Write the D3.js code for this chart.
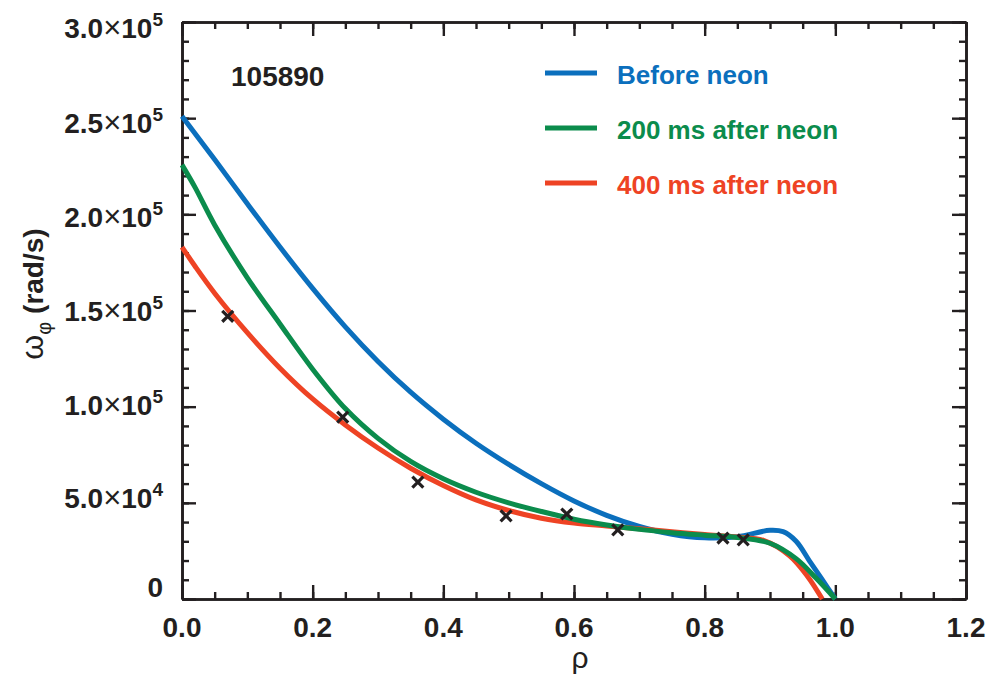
<!DOCTYPE html>
<html>
<head>
<meta charset="utf-8">
<script src="https://cdn.jsdelivr.net/npm/d3@7"></script>
<style>
  html, body { margin: 0; padding: 0; background: #fff; }
  svg { display: block; }
  text { font-family: "Liberation Sans", Arial, Helvetica, sans-serif; }
</style>
</head>
<body>
<svg id="chart" width="1003" height="681"></svg>
<script>
// ---- data ----
const rhoTicks = [0, 0.2, 0.4, 0.6, 0.8, 1.0, 1.2];
const rhoTickLabels = ["0.0", "0.2", "0.4", "0.6", "0.8", "1.0", "1.2"];
const omegaTicks = [0, 5e4, 1e5, 1.5e5, 2e5, 2.5e5, 3e5];
const omegaMantissa = ["0", "5.0", "1.0", "1.5", "2.0", "2.5", "3.0"];
const omegaExponent = [null, "4", "5", "5", "5", "5", "5"];

const seriesNames = ["Before neon", "200 ms after neon", "400 ms after neon"];
const seriesColors = ["#0b6fbd", "#0b8c4c", "#ee4324"];

const beforeRho   = [0, 0.05, 0.1, 0.15, 0.2, 0.25, 0.3, 0.35, 0.4, 0.45, 0.5, 0.55, 0.6, 0.65, 0.7, 0.75, 0.8, 0.85, 0.9, 0.92, 0.94, 0.96, 0.98, 1.0];
const beforeOmega = [2.51e5, 2.285e5, 2.055e5, 1.83e5, 1.615e5, 1.415e5, 1.235e5, 1.075e5, 0.935e5, 0.81e5, 0.70e5, 0.60e5, 0.51e5, 0.435e5, 0.377e5, 0.337e5, 0.318e5, 0.324e5, 0.357e5, 0.35e5, 0.30e5, 0.20e5, 0.10e5, 0];

const after200Rho   = [0, 0.02, 0.05, 0.1, 0.15, 0.2, 0.25, 0.3, 0.35, 0.4, 0.45, 0.5, 0.55, 0.6, 0.65, 0.7, 0.75, 0.8, 0.85, 0.9, 0.94, 0.97, 1.0];
const after200Omega = [2.257e5, 2.14e5, 1.945e5, 1.67e5, 1.43e5, 1.195e5, 0.99e5, 0.835e5, 0.715e5, 0.625e5, 0.555e5, 0.50e5, 0.455e5, 0.415e5, 0.385e5, 0.362e5, 0.345e5, 0.332e5, 0.32e5, 0.29e5, 0.21e5, 0.11e5, 0];

const after400Rho   = [0, 0.02, 0.05, 0.1, 0.15, 0.2, 0.25, 0.3, 0.35, 0.4, 0.45, 0.5, 0.55, 0.6, 0.65, 0.7, 0.75, 0.8, 0.85, 0.89, 0.93, 0.957, 0.98];
const after400Omega = [1.83e5, 1.73e5, 1.59e5, 1.385e5, 1.20e5, 1.04e5, 0.905e5, 0.785e5, 0.68e5, 0.59e5, 0.515e5, 0.46e5, 0.42e5, 0.395e5, 0.38e5, 0.365e5, 0.35e5, 0.335e5, 0.322e5, 0.305e5, 0.225e5, 0.12e5, 0];

// measured points
const measRho   = [0.07, 0.246, 0.361, 0.496, 0.589, 0.667, 0.828, 0.859];
const measOmega = [1.47e5, 0.946e5, 0.608e5, 0.432e5, 0.442e5, 0.359e5, 0.317e5, 0.307e5];

const shotLabel = "105890";

// ---- layout ----
const svg = d3.select("#chart");
const plot = { left: 182, right: 966, top: 22, bottom: 599 };
const ink = "#231f20";

const x = d3.scaleLinear().domain([0, 1.2]).range([plot.left, plot.right]);
const y = d3.scaleLinear().domain([0, 3e5]).range([plot.bottom, plot.top]);

const rhoMinor = d3.range(0, 1.2001, 0.05);
const omegaMinor = d3.range(0, 3.0001e5, 1e4);

function styleAxis(g) {
  g.selectAll(".domain").attr("stroke", ink).attr("stroke-width", 2.6);
  g.selectAll(".tick line").attr("stroke", ink).attr("stroke-width", 2.4);
  g.selectAll(".tick text").remove();
}

// frame with inward ticks on all four sides
const axes = [
  { gen: d3.axisBottom, scale: x, pos: `translate(0,${plot.bottom})`, major: rhoTicks, minor: rhoMinor },
  { gen: d3.axisTop,    scale: x, pos: `translate(0,${plot.top})`,    major: rhoTicks, minor: rhoMinor },
  { gen: d3.axisLeft,   scale: y, pos: `translate(${plot.left},0)`,   major: omegaTicks, minor: omegaMinor },
  { gen: d3.axisRight,  scale: y, pos: `translate(${plot.right},0)`,  major: omegaTicks, minor: omegaMinor }
];
axes.forEach(a => {
  svg.append("g").attr("transform", a.pos)
    .call(a.gen(a.scale).tickValues(a.minor).tickSizeInner(-7).tickSizeOuter(0).tickFormat(""))
    .call(styleAxis);
  svg.append("g").attr("transform", a.pos)
    .call(a.gen(a.scale).tickValues(a.major).tickSizeInner(-14).tickSizeOuter(0).tickFormat(""))
    .call(styleAxis);
});

// x tick labels
svg.append("g").selectAll("text")
  .data(rhoTicks)
  .join("text")
  .attr("x", d => x(d))
  .attr("y", 637)
  .attr("text-anchor", "middle")
  .attr("font-size", 28)
  .attr("font-weight", "bold")
  .attr("fill", ink)
  .text((d, i) => rhoTickLabels[i]);

// y tick labels (mantissa x 10^exponent)
const yLab = svg.append("g").selectAll("text")
  .data(omegaTicks)
  .join("text")
  .attr("x", 163)
  .attr("y", d => y(d) - 2 + 18 * Math.sqrt(d / 3e5))
  .attr("text-anchor", "end")
  .attr("font-size", 28)
  .attr("font-weight", "bold")
  .attr("fill", ink);
yLab.each(function (d, i) {
  const t = d3.select(this);
  t.append("tspan").text(omegaMantissa[i]);
  if (omegaExponent[i]) {
    t.append("tspan").attr("font-weight", "normal").attr("font-size", 31).text("\u00d7");
    t.append("tspan").text("10");
    t.append("tspan").attr("font-size", 19).attr("dy", -12).text(omegaExponent[i]);
  }
});

// axis titles
svg.append("text")
  .attr("x", 580)
  .attr("y", 668)
  .attr("text-anchor", "middle")
  .attr("font-size", 30)
  .attr("fill", ink)
  .text("\u03c1");

const yTitle = svg.append("text")
  .attr("transform", "translate(43,294) rotate(-90)")
  .attr("text-anchor", "middle")
  .attr("fill", ink);
yTitle.append("tspan").attr("font-size", 32).text("\u03c9");
yTitle.append("tspan").attr("font-size", 20).attr("dy", 8).text("\u03c6");
yTitle.append("tspan").attr("font-size", 28).attr("font-weight", "bold").attr("dy", -8).text(" (rad/s)");

// shot number
svg.append("text")
  .attr("x", 231)
  .attr("y", 86)
  .attr("font-size", 28)
  .attr("font-weight", "bold")
  .attr("fill", ink)
  .text(shotLabel);

// profiles
const seriesRho = [beforeRho, after200Rho, after400Rho];
const seriesOmega = [beforeOmega, after200Omega, after400Omega];
const line = d3.line()
  .x(d => x(d[0]))
  .y(d => y(d[1]))
  .curve(d3.curveCatmullRom.alpha(0.5));

const drawOrder = [0, 2, 1];
drawOrder.forEach(k => {
  const pts = seriesRho[k].map((r, i) => [r, seriesOmega[k][i]]);
  svg.append("path")
    .datum(pts)
    .attr("fill", "none")
    .attr("stroke", seriesColors[k])
    .attr("stroke-width", 5)
    .attr("stroke-linejoin", "round")
    .attr("d", line);
});

// measured points
const sym = d3.symbol().type(d3.symbolX).size(80);
svg.append("g").selectAll("path")
  .data(measRho.map((r, i) => [r, measOmega[i]]))
  .join("path")
  .attr("transform", d => `translate(${x(d[0])},${y(d[1])})`)
  .attr("d", sym)
  .attr("fill", "none")
  .attr("stroke", ink)
  .attr("stroke-width", 3.2);

// legend
const legend = svg.append("g");
seriesNames.forEach((name, i) => {
  const ly = 73 + i * 55;
  legend.append("line")
    .attr("x1", 545).attr("x2", 597)
    .attr("y1", ly).attr("y2", ly)
    .attr("stroke", seriesColors[i])
    .attr("stroke-width", 5);
  legend.append("text")
    .attr("x", 617)
    .attr("y", ly + 10.5)
    .attr("font-size", 26)
    .attr("font-weight", "bold")
    .attr("fill", seriesColors[i])
    .text(name);
});
</script>
</body>
</html>
